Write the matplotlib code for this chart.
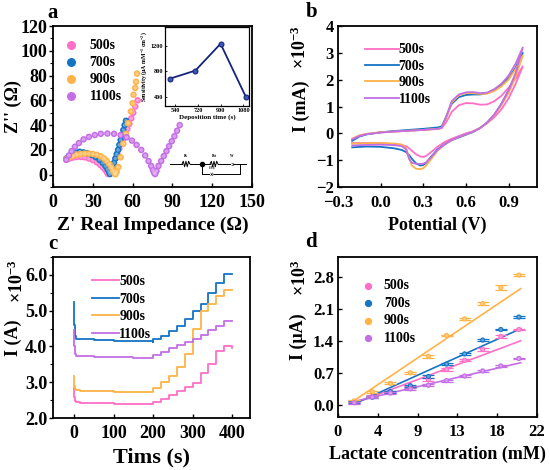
import numpy as np
import matplotlib
matplotlib.use("Agg")
import matplotlib.pyplot as plt
from matplotlib.ticker import AutoMinorLocator

plt.rcParams['font.family'] = ['Liberation Serif', 'DejaVu Serif']
plt.rcParams['font.weight'] = 'bold'
plt.rcParams['axes.labelweight'] = 'bold'
plt.rcParams['mathtext.fontset'] = 'custom'
plt.rcParams['mathtext.rm'] = 'Liberation Serif:bold'
plt.rcParams['mathtext.bf'] = 'Liberation Serif:bold'
plt.rcParams['mathtext.it'] = 'Liberation Serif:bold:italic'

labels = ['500s', '700s', '900s', '1100s']
colors = ['#FF6EC7', '#1574C4', '#FFB347', '#C46EE6']

# ---- panel a: Nyquist data
z500_re = [10, 12.5, 15, 18, 21, 24, 27, 30, 33, 35.5, 37.5, 39.3, 40.6, 41.5, 42.5, 44, 45.5, 47, 48.5, 50, 51.5, 53, 54.5, 56, 57.5, 59, 60.5, 62, 63.8]
z500_im = [12, 13, 13.8, 14.3, 14.3, 14, 13, 11.8, 10, 8, 6, 4, 2, 0.5, 1.5, 5, 9, 13, 17, 21, 25, 29, 33, 37, 41, 45.5, 50, 55, 60]
z700_re = [10, 12, 14, 17, 20, 23, 26, 29, 32, 35, 37.5, 39.5, 41, 42.2, 43, 44, 45, 46, 47, 48, 49, 50, 51, 52, 53, 54, 55]
z700_im = [13, 15, 16.5, 18, 18.5, 18, 17.2, 16, 14.3, 12, 9.5, 7, 4.5, 2.2, 0.5, 2.5, 6, 9.5, 13, 16.5, 20, 24, 28, 32, 36, 40, 43.5]
z900_re = [10, 12.5, 15, 18, 21, 24, 27, 30, 33, 36, 38.5, 40.5, 42.5, 44, 45.2, 46.2, 47, 48, 49.2, 51, 53, 55, 56.6, 58.7, 60, 60.7, 62, 62.6, 63.3]
z900_im = [12.5, 14, 15.2, 16.2, 16.8, 17, 17, 16.7, 16, 14.8, 13, 11, 8.5, 6, 3.5, 1.2, 0.3, 2.5, 6.2, 14, 25, 33, 41.5, 51, 57.7, 64.5, 70, 75, 81.6]
z1100_re = [10, 12, 14, 16.5, 19.5, 23, 27, 31.5, 36, 41, 46, 51, 55.5, 59.5, 63, 66.5, 69.5, 72, 74, 75.3, 76.2, 77, 78, 79.5, 81.5, 83.5, 85.5, 87.5, 89.5, 91.5, 93.5, 95.5]
z1100_im = [12, 15.5, 19, 22.5, 25.5, 28.5, 30.5, 32, 33, 33.2, 33, 32, 30.2, 27.5, 24, 20, 15.5, 11, 7, 3.8, 1.5, 0.5, 3, 7, 11, 15, 19, 23, 27, 31, 35.5, 40]
nyq_re = [z500_re, z700_re, z900_re, z1100_re]
nyq_im = [z500_im, z700_im, z900_im, z1100_im]

dep_time = [500, 700, 900, 1100]
sensitivity = [683, 810, 1235, 395]

# ---- panel b: CV data
e_fwd = [-0.2, -0.15, -0.1, 0.0, 0.1, 0.2, 0.3, 0.4, 0.43, 0.46, 0.5, 0.55, 0.6, 0.65, 0.7, 0.75, 0.8, 0.85, 0.9, 0.95, 1.0]
cv500_fwd = [-0.2, -0.08, -0.02, 0.04, 0.07, 0.1, 0.13, 0.17, 0.2, 0.4, 0.8, 1.05, 1.13, 1.12, 1.07, 1.08, 1.2, 1.4, 1.7, 2.05, 2.5]
cv700_fwd = [-0.28, -0.12, -0.04, 0.04, 0.09, 0.13, 0.17, 0.22, 0.26, 0.6, 1.1, 1.35, 1.43, 1.45, 1.45, 1.5, 1.62, 1.8, 2.05, 2.45, 3.0]
cv900_fwd = [-0.2, -0.08, -0.02, 0.04, 0.07, 0.1, 0.13, 0.17, 0.2, 0.55, 1.15, 1.42, 1.5, 1.5, 1.47, 1.48, 1.58, 1.75, 2.0, 2.4, 2.9]
cv1100_fwd = [-0.22, -0.1, -0.03, 0.03, 0.07, 0.1, 0.13, 0.17, 0.2, 0.6, 1.2, 1.45, 1.53, 1.54, 1.5, 1.52, 1.65, 1.85, 2.15, 2.6, 3.2]
e_rev = [1.0, 0.95, 0.9, 0.85, 0.8, 0.75, 0.7, 0.65, 0.6, 0.55, 0.5, 0.45, 0.4, 0.35, 0.32, 0.3, 0.28, 0.25, 0.22, 0.2, 0.18, 0.15, 0.1, 0.0, -0.1, -0.2]
cv500_rev = [2.5, 1.85, 1.3, 0.9, 0.6, 0.38, 0.2, 0.08, 0.0, -0.1, -0.2, -0.32, -0.5, -0.72, -0.84, -0.88, -0.86, -0.78, -0.65, -0.55, -0.48, -0.43, -0.4, -0.37, -0.36, -0.36]
cv700_rev = [3.0, 2.2, 1.6, 1.1, 0.7, 0.4, 0.2, 0.05, -0.05, -0.15, -0.25, -0.4, -0.6, -0.9, -1.1, -1.18, -1.2, -1.12, -0.95, -0.8, -0.7, -0.62, -0.56, -0.5, -0.49, -0.52]
cv900_rev = [2.9, 2.1, 1.5, 1.05, 0.68, 0.4, 0.2, 0.06, -0.03, -0.13, -0.25, -0.42, -0.65, -1.0, -1.2, -1.3, -1.33, -1.32, -1.2, -0.9, -0.55, -0.42, -0.38, -0.36, -0.37, -0.38]
cv1100_rev = [3.2, 2.25, 1.6, 1.1, 0.7, 0.42, 0.2, 0.06, -0.03, -0.13, -0.25, -0.42, -0.62, -0.92, -1.08, -1.13, -1.14, -1.13, -1.1, -0.95, -0.6, -0.48, -0.44, -0.42, -0.43, -0.45]
cv_fwd = [cv500_fwd, cv700_fwd, cv900_fwd, cv1100_fwd]
cv_rev = [cv500_rev, cv700_rev, cv900_rev, cv1100_rev]

# ---- panel c: i-t data
t_decay = [0, 0.5, 2, 5, 15, 50, 100, 150, 200]
it500_decay = [2.85, 2.6, 2.47, 2.44, 2.43, 2.41, 2.40, 2.39, 2.38]
it700_decay = [5.25, 4.6, 4.3, 4.22, 4.2, 4.18, 4.16, 4.14, 4.12]
it900_decay = [3.17, 2.9, 2.8, 2.77, 2.76, 2.75, 2.74, 2.73, 2.72]
it1100_decay = [4.45, 4.0, 3.78, 3.74, 3.72, 3.71, 3.70, 3.69, 3.68]
t_steps = [200, 220, 240, 260, 280, 300, 320, 340, 360, 380, 400]
it500_steps = [2.45, 2.53, 2.63, 2.76, 2.88, 2.98, 3.25, 3.5, 3.88, 4.0, 3.95]
it700_steps = [4.2, 4.3, 4.42, 4.57, 4.77, 5.0, 5.2, 5.5, 5.78, 6.02, 6.02]
it900_steps = [2.85, 3.0, 3.18, 3.42, 3.8, 4.5, 4.98, 5.2, 5.4, 5.58, 5.58]
it1100_steps = [3.75, 3.85, 3.95, 4.03, 4.12, 4.22, 4.33, 4.45, 4.57, 4.7, 4.7]
it_decay = [it500_decay, it700_decay, it900_decay, it1100_decay]
it_steps = [it500_steps, it700_steps, it900_steps, it1100_steps]

# ---- panel d: calibration data
conc = [1.8, 3.8, 5.8, 8.0, 10.0, 12.0, 14.0, 16.0, 18.0, 20.0]
cal500 = [0.07, 0.20, 0.30, 0.40, 0.56, 0.78, 0.98, 1.22, 1.50, 1.65]
cal700 = [0.07, 0.18, 0.30, 0.43, 0.63, 0.90, 1.12, 1.42, 1.65, 1.92]
cal900 = [0.10, 0.30, 0.48, 0.71, 1.07, 1.52, 1.88, 2.21, 2.56, 2.83]
cal1100 = [0.06, 0.18, 0.27, 0.36, 0.44, 0.54, 0.64, 0.75, 0.86, 1.02]
err500 = [0.02, 0.02, 0.02, 0.03, 0.03, 0.03, 0.02, 0.03, 0.03, 0.02]
err700 = [0.02, 0.02, 0.02, 0.02, 0.03, 0.03, 0.03, 0.02, 0.02, 0.02]
err900 = [0.02, 0.02, 0.02, 0.02, 0.03, 0.02, 0.02, 0.03, 0.05, 0.02]
err1100 = [0.02, 0.02, 0.02, 0.02, 0.02, 0.02, 0.02, 0.02, 0.02, 0.02]
cal = [cal500, cal700, cal900, cal1100]
cal_err = [err500, err700, err900, err1100]
fit_slope = [0.0739, 0.0887, 0.132, 0.0457]
fit_icpt = [-0.088, -0.124, -0.13, 0.005]
fit_range = [1.8, 20.2]

LEG = 10


def style(ax, tick=13, ydir='in'):
    ax.tick_params(axis='x', direction='in', length=3, width=1, labelsize=tick, pad=5)
    ax.tick_params(axis='y', direction=ydir, length=3, width=1, labelsize=tick,
                   pad=1 if ydir == 'out' else 3)
    if ydir == 'out':
        ax.yaxis.set_minor_locator(AutoMinorLocator(2))
        ax.tick_params(axis='y', which='minor', direction='out', length=2, width=0.8)
    for s in ax.spines.values():
        s.set_linewidth(1.3)


def sphere(ax, x, y, c, s=22, z=3):
    ax.scatter(x, y, s=s, color=c, edgecolors='none', zorder=z)
    ax.scatter(x, y, s=s * 0.3, color='white', alpha=0.35, edgecolors='none', zorder=z)


fig = plt.figure(figsize=(5.5, 4.7), dpi=100)
ax_a = fig.add_axes([0.0964, 0.602, 0.3618, 0.3426])
ax_b = fig.add_axes([0.6145, 0.602, 0.3618, 0.3426])
ax_c = fig.add_axes([0.0964, 0.1106, 0.3582, 0.3426])
ax_d = fig.add_axes([0.6145, 0.1128, 0.3618, 0.340])

# a
for i in range(4):
    sphere(ax_a, nyq_re[i], nyq_im[i], colors[i], z=3 + i)
ax_a.set_xlim(0, 150)
ax_a.set_ylim(-10, 120)
ax_a.set_xticks(range(0, 151, 30))
ax_a.set_yticks(range(0, 121, 20))
ax_a.set_xlabel("Z' Real Impedance (Ω)", fontsize=14)
ax_a.set_ylabel("Z'' (Ω)", fontsize=13)
ax_a.yaxis.set_label_coords(-0.155, 0.5)
style(ax_a, 13, 'out')
hs = [ax_a.scatter([], [], s=30, color=c) for c in colors]
ax_a.legend(hs, labels, loc='upper left', bbox_to_anchor=(-0.025, 1.0), frameon=False,
            fontsize=LEG, handletextpad=0.6, labelspacing=0.3, handlelength=1.5)

# equivalent circuit sketch (axes fraction coords)
ck = dict(color='black', lw=0.7, transform=ax_a.transAxes, zorder=10)
ax_a.plot([0.588, 0.648], [0.143, 0.143], **ck)
ax_a.plot(np.linspace(0.648, 0.688, 7), [0.143, 0.16, 0.126, 0.16, 0.126, 0.16, 0.143], **ck)
ax_a.plot([0.688, 0.789], [0.143, 0.143], **ck)
ax_a.plot(np.linspace(0.789, 0.829, 7), [0.143, 0.16, 0.126, 0.16, 0.126, 0.16, 0.143], **ck)
ax_a.plot([0.829, 0.97], [0.143, 0.143], **ck)
ax_a.plot([0.749, 0.749, 0.94, 0.94], [0.143, 0.081, 0.081, 0.143], **ck)
ax_a.plot([0.749], [0.143], marker='o', ms=3, **ck)
ax_a.text(0.80, 0.081, '»', fontsize=6, ha='center', va='center', transform=ax_a.transAxes, zorder=11,
          bbox=dict(facecolor='white', edgecolor='none', pad=0))
ax_a.text(0.90, 0.143, 'ↄ', fontsize=5, ha='center', va='center', transform=ax_a.transAxes, zorder=11,
          bbox=dict(facecolor='white', edgecolor='none', pad=0))
for xx, tt in [(0.668, 'Rs'), (0.809, 'Rct'), (0.90, 'W'), (0.80, 'CPE')]:
    yy = 0.118 if tt == 'CPE' else 0.19
    ax_a.text(xx, yy, tt, fontsize=2.5, ha='center', va='center', transform=ax_a.transAxes, zorder=11)

# inset
ax_in = fig.add_axes([0.30, 0.7745, 0.1527, 0.168])
ax_in.plot(dep_time, sensitivity, color='#16237A', lw=1.3, marker='o', ms=3.5,
           mfc='#3F55B8', mec='#16237A', mew=0.8)
ax_in.set_xlim(460, 1125)
ax_in.set_ylim(250, 1500)
ax_in.set_xticks([540, 720, 900, 1080])
ax_in.set_yticks([400, 800, 1200])
ax_in.tick_params(direction='in', length=1.5, width=0.6, labelsize=4.5, pad=1.5)
for s in ax_in.spines.values():
    s.set_linewidth(0.9)
ax_in.set_xlabel('Deposition time (s)', fontsize=5, labelpad=1)
ax_in.set_ylabel('Sensitivity (μA mM$^{-1}$ cm$^{-2}$)', fontsize=4.2, labelpad=1)

# b
for i in range(4):
    ax_b.plot(e_fwd + e_rev, cv_fwd[i] + cv_rev[i], color=colors[i], lw=1.3, label=labels[i])
ax_b.set_xlim(-0.3, 1.1)
ax_b.set_ylim(-2, 4)
ax_b.set_xticks([-0.3, 0.0, 0.3, 0.6, 0.9])
ax_b.set_xticklabels(['−0.3', '0.0', '0.3', '0.6', '0.9'])
ax_b.set_yticks(range(-2, 5))
ax_b.set_xlabel('Potential (V)', fontsize=13)
ax_b.set_ylabel('I (mA)', fontsize=13, labelpad=4)
ax_b.text(-0.19, 0.87, r'$\times10^{-3}$', rotation=90, fontsize=13, ha='center', va='center',
          transform=ax_b.transAxes)
style(ax_b, 12)
ax_b.tick_params(axis='x', pad=6)
ax_b.legend(loc='upper left', bbox_to_anchor=(0.075, 0.97), frameon=False, fontsize=LEG,
            handlelength=2.4, handletextpad=0.0, labelspacing=0.25)

# c
for i in range(4):
    ax_c.plot(t_decay + t_steps, it_decay[i] + it_steps[i], color=colors[i], lw=1.3,
              label=labels[i], drawstyle='steps-post')
ax_c.set_xlim(-53, 445)
ax_c.set_ylim(2.0, 6.5)
ax_c.set_xticks(range(0, 401, 100))
ax_c.set_yticks([2.0, 3.0, 4.0, 5.0, 6.0])
ax_c.set_yticklabels(['2.0', '3.0', '4.0', '5.0', '6.0'])
ax_c.set_xlabel('Tims (s)', fontsize=16)
ax_c.set_ylabel('I (A)', fontsize=13)
ax_c.yaxis.set_label_coords(-0.155, 0.5)
ax_c.text(-0.18, 0.85, r'$\times10^{-3}$', rotation=90, fontsize=13, ha='center', va='center',
          transform=ax_c.transAxes)
style(ax_c, 13, 'out')
ax_c.legend(loc='upper left', bbox_to_anchor=(0.135, 0.965), frameon=False, fontsize=LEG,
            handlelength=1.9, handletextpad=0.05, labelspacing=0.33)

# d
xf = np.array(fit_range)
for i in range(4):
    ax_d.errorbar(conc, cal[i], yerr=cal_err[i], fmt='none', ecolor=colors[i], elinewidth=0.8,
                  capsize=4.5, capthick=0.9, zorder=3)
    sphere(ax_d, conc, cal[i], colors[i], s=14, z=4)
    ax_d.plot(xf, fit_slope[i] * xf + fit_icpt[i], color=colors[i], lw=1.2, zorder=2)
ax_d.set_xlim(0, 22)
ax_d.set_ylim(-0.25, 3.22)
ax_d.set_xticks(np.linspace(0, 22, 6))
ax_d.set_xticklabels(['%.0f' % v for v in np.linspace(0, 22, 6)])
ax_d.set_yticks([0.0, 0.7, 1.4, 2.1, 2.8])
ax_d.set_yticklabels(['0.0', '0.7', '1.4', '2.1', '2.8'])
ax_d.set_xlabel('Lactate concentration (mM)', fontsize=13)
ax_d.set_ylabel('I (μA)', fontsize=13, labelpad=4)
ax_d.text(-0.19, 0.87, r'$\times10^{3}$', rotation=90, fontsize=13, ha='center', va='center',
          transform=ax_d.transAxes)
style(ax_d, 12)
hs = [ax_d.scatter([], [], s=18, color=c) for c in colors]
ax_d.legend(hs, labels, loc='upper left', bbox_to_anchor=(0.035, 0.94), frameon=False,
            fontsize=LEG, handletextpad=0.4, labelspacing=0.33, handlelength=1.5)

# panel letters
for x, y, t in [(0.087, 0.972, 'a'), (0.555, 0.974, 'b'), (0.087, 0.481, 'c'), (0.555, 0.485, 'd')]:
    fig.text(x, y, t, fontsize=15, fontweight='bold', ha='left', va='center')

fig.savefig('out.png', dpi=100)
